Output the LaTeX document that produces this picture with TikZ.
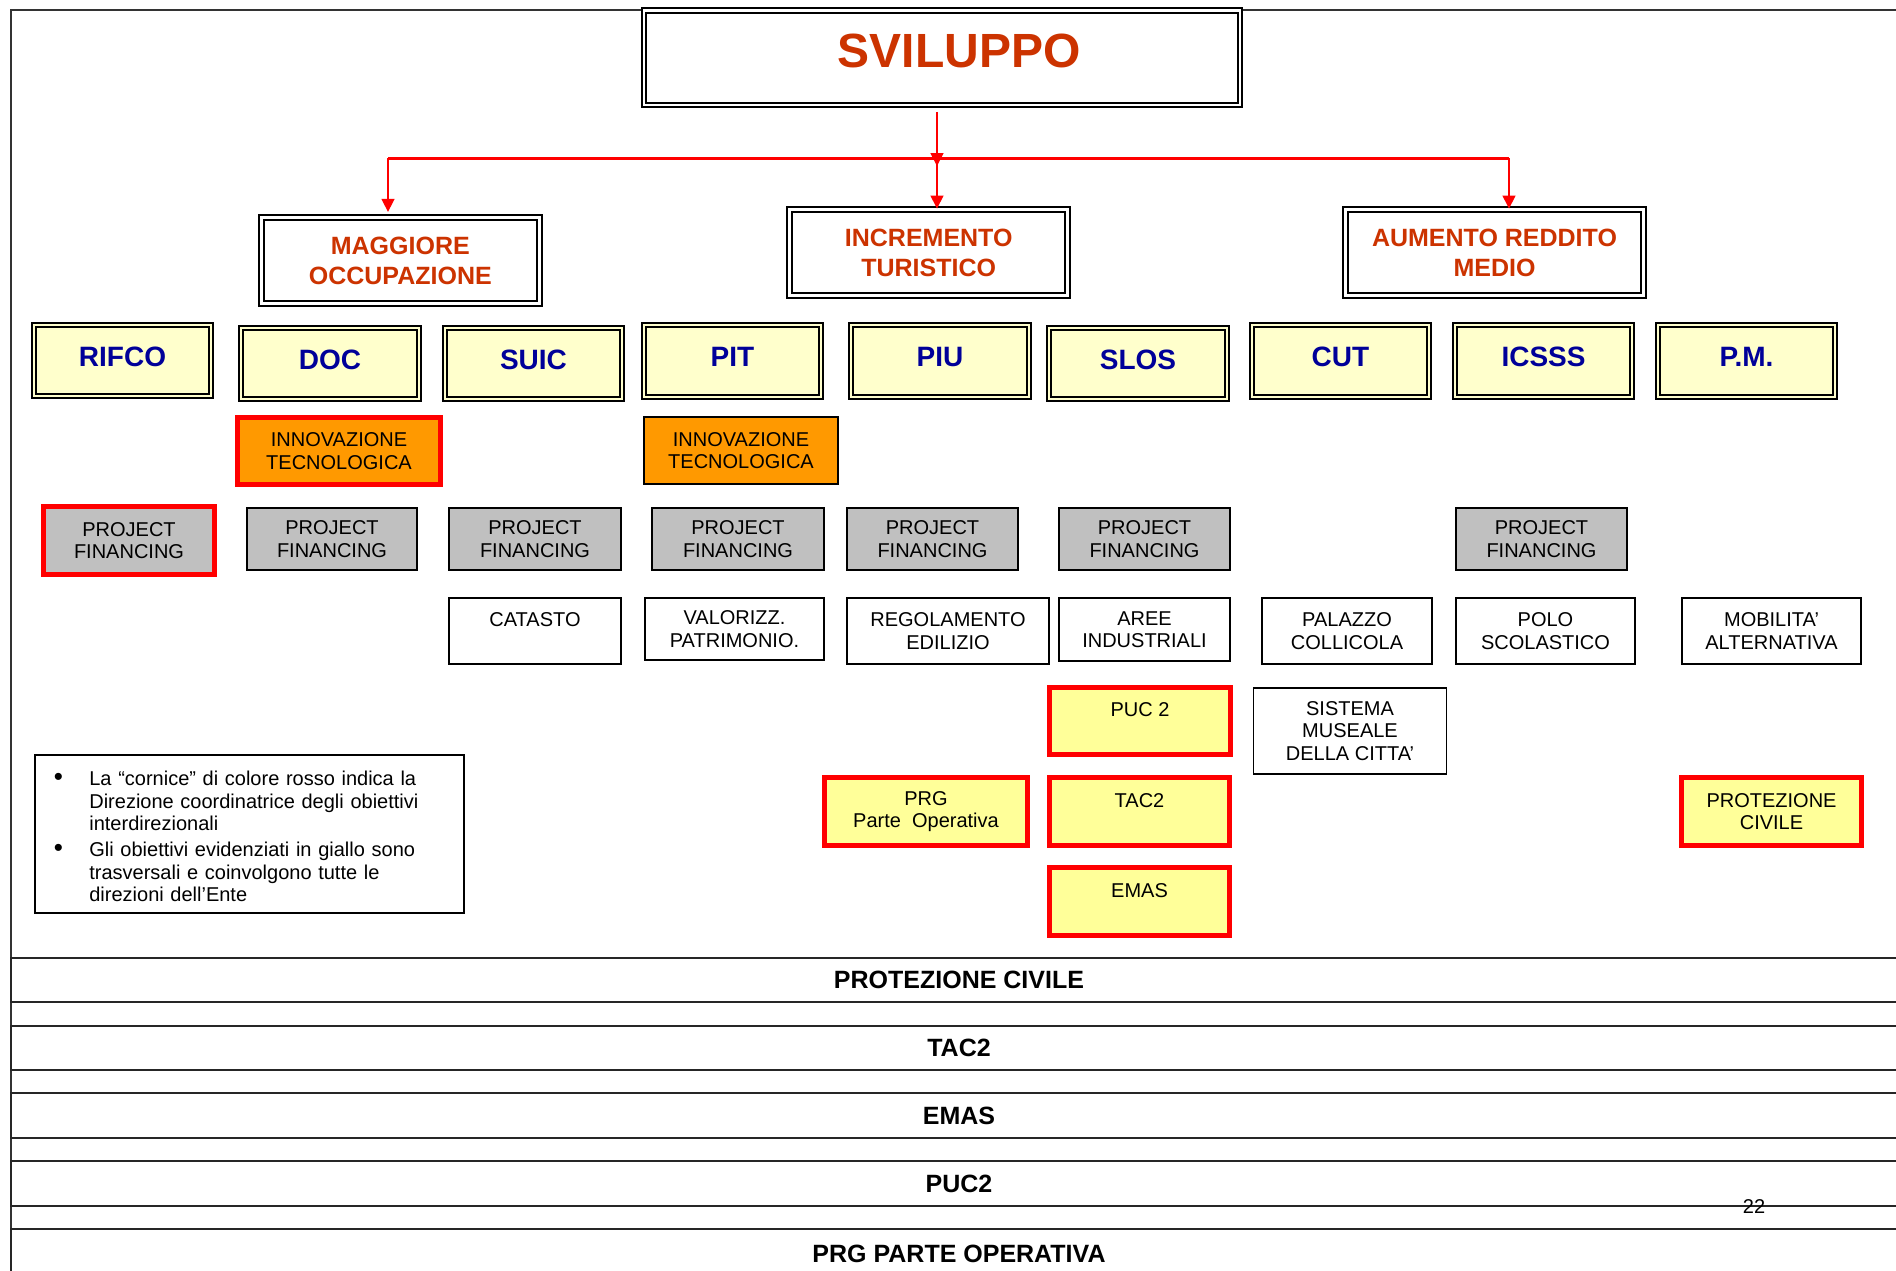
\documentclass[tikz,border=0pt]{standalone}
\usepackage{fontspec}
\setmainfont{Liberation Sans}
\usetikzlibrary{arrows.meta}
\definecolor{titlered}{HTML}{CC3300}
\definecolor{deptblue}{HTML}{000099}
\definecolor{deptyellow}{HTML}{FFFFCC}
\definecolor{orangefill}{HTML}{FF9900}
\definecolor{grayfill}{HTML}{C0C0C0}
\definecolor{yellowfill}{HTML}{FFFF99}
\definecolor{linkred}{HTML}{FF0000}
\newcommand{\liftup}[2]{\raisebox{#1}[\height][\depth]{#2}}
\begin{document}
\begin{tikzpicture}[x=1pt,y=-1pt,
  frameline/.style={draw=black!80, line width=2pt},
  titlebox/.style={draw=black, line width=2pt, double=white, double distance=2.5pt, fill=white,
    text=titlered, font=\fontsize{48}{56}\selectfont\bfseries, inner sep=0pt},
  objbox/.style={draw=black, line width=2pt, double=white, double distance=3pt, fill=white,
    text=titlered, font=\fontsize{25}{30}\selectfont\bfseries, align=center, inner sep=0pt},
  deptbox/.style={draw=black, line width=2pt, double=deptyellow, double distance=2pt, fill=deptyellow,
    text=deptblue, font=\fontsize{28}{32}\selectfont\bfseries, inner sep=0pt,
    minimum width=177.5pt, minimum height=71.5pt},
  plainbox/.style={draw=black, line width=1.5pt, fill=white, align=center, inner sep=0pt,
    font=\fontsize{20}{22.5}\selectfont},
  redframe/.style={draw=linkred, line width=5pt},
  pfbox/.style={plainbox, fill=grayfill, line width=2pt, minimum height=62pt},
  ybox/.style={plainbox, fill=yellowfill, redframe, minimum width=181pt, minimum height=68pt},
  band/.style={draw=black!85, line width=2pt, minimum width=1896pt, minimum height=44pt, inner sep=0pt,
    font=\fontsize{25}{29}\selectfont\bfseries},
  redarrow/.style={draw=linkred, line width=1.5pt, -{Triangle[length=13pt,width=13pt]}},
  redbar/.style={draw=linkred, line width=3pt}]
\useasboundingbox (0,0) rectangle (1896,1270);
\clip (0,0) rectangle (1896,1270);
\fill[white] (0,0) rectangle (1896,1270);

% outer frame
\draw[frameline] (11,1290) -- (11,9.5) -- (1920,9.5);

% bottom bands
\node[band] (bPC) at (959,980) {PROTEZIONE CIVILE};
\node[band] (bTAC) at (959,1048) {TAC2};
\node[band, minimum height=45pt] (bEMAS) at (959,1115.5) {EMAS};
\node[band, minimum height=45pt] (bPUC) at (959,1183.5) {PUC2};
\node[band, minimum height=50pt] (bPRG) at (959,1254) {PRG PARTE OPERATIVA};
\node[font=\fontsize{20}{24}\selectfont, inner sep=0pt] (pnum) at (1754,1206) {22};

% title
\node[titlebox, minimum width=595.6pt, minimum height=94.5pt] (svil) at (942,57.5)
  {\hspace*{34pt}\liftup{7pt}{SVILUPPO}};

% objectives
\node[objbox, minimum width=278.5pt, minimum height=85.7pt] (magg) at (400.3,260.7) {MAGGIORE\\OCCUPAZIONE};
\node[objbox, minimum width=278.5pt, minimum height=86.3pt] (incr) at (928.7,252.7) {INCREMENTO\\TURISTICO};
\node[objbox, minimum width=298pt, minimum height=86.3pt] (aum) at (1494.5,252.7) {AUMENTO REDDITO\\MEDIO};

% connectors
\coordinate (jl) at (388,158);
\coordinate (jm) at (937,158);
\coordinate (jr) at (1509,158);
\draw[redbar] (jl) -- (jr);
\draw[redarrow, shorten <=6pt, shorten >=-8pt] (svil.south -| jm) -- (jm);
\draw[redarrow, shorten >=5pt] (jl) -- (jl |- magg.north);
\draw[redarrow] (jm) -- (jm |- incr.north);
\draw[redarrow] (jr) -- (jr |- aum.north);

% departments
\node[deptbox] (rifco) at (122.5,360.5) {\liftup{4pt}{RIFCO}};
\node[deptbox] (doc) at (330,363.5) {\liftup{4pt}{DOC}};
\node[deptbox] (suic) at (533.5,363.5) {\liftup{4pt}{SUIC}};
\node[deptbox] (pit) at (732.5,361) {\liftup{4pt}{PIT}};
\node[deptbox] (piu) at (940,361) {\liftup{4pt}{PIU}};
\node[deptbox] (slos) at (1138,363.5) {\liftup{4pt}{SLOS}};
\node[deptbox] (cut) at (1340.5,361) {\liftup{4pt}{CUT}};
\node[deptbox] (icsss) at (1543.5,361) {\liftup{4pt}{ICSSS}};
\node[deptbox] (pm) at (1746.5,361) {\liftup{4pt}{P.M.}};

% innovazione
\node[plainbox, fill=orangefill, redframe, minimum width=203pt, minimum height=67pt] (inn1) at (339,451) {INNOVAZIONE\\TECNOLOGICA};
\node[plainbox, fill=orangefill, line width=2pt, minimum width=194pt, minimum height=67pt] (inn2) at (741,450.5) {INNOVAZIONE\\TECNOLOGICA};

% project financing
\node[pfbox, redframe, minimum width=171pt, minimum height=68pt] (pf1) at (129,540.5) {PROJECT\\FINANCING};
\node[pfbox, minimum width=170pt] (pf2) at (332,539) {PROJECT\\FINANCING};
\node[pfbox, minimum width=172pt] (pf3) at (535,539) {PROJECT\\FINANCING};
\node[pfbox, minimum width=172pt, line width=2.5pt] (pf4) at (738,539) {PROJECT\\FINANCING};
\node[pfbox, minimum width=171pt] (pf5) at (932.5,539) {PROJECT\\FINANCING};
\node[pfbox, minimum width=171pt] (pf6) at (1144.5,539) {PROJECT\\FINANCING};
\node[pfbox, minimum width=171pt] (pf7) at (1541.5,539) {PROJECT\\FINANCING};

% white boxes
\node[plainbox, minimum width=172pt, minimum height=66pt] (catasto) at (535,631) {CATASTO\\~};
\node[plainbox, minimum width=179pt, minimum height=62pt] (valor) at (734.5,629) {VALORIZZ.\\PATRIMONIO.};
\node[plainbox, minimum width=202pt, minimum height=66pt] (regol) at (948,631) {REGOLAMENTO\\EDILIZIO};
\node[plainbox, line width=2pt, minimum width=171pt, minimum height=63pt] (aree) at (1144.5,629.5) {AREE\\INDUSTRIALI};
\node[plainbox, minimum width=170pt, minimum height=66pt] (palazzo) at (1347,631) {PALAZZO\\COLLICOLA};
\node[plainbox, minimum width=179pt, minimum height=66pt] (polo) at (1545.5,631) {POLO\\SCOLASTICO};
\node[plainbox, minimum width=179pt, minimum height=66pt] (mobil) at (1771.5,631) {MOBILITA’\\ALTERNATIVA};

% lower boxes
\node[ybox, minimum height=67pt] (puc) at (1140,721) {PUC 2\\~};
\node[plainbox, minimum width=193pt, minimum height=86pt] (museo) at (1350,731) {SISTEMA\\MUSEALE\\DELLA CITTA’};
\node[ybox, minimum width=203pt] (prg) at (926,811.5) {PRG\\Parte\ \ Operativa};
\node[ybox, minimum width=180pt] (tac) at (1139.5,811.5) {TAC2\\~};
\node[ybox, minimum width=180pt] (emas) at (1139.5,901.5) {EMAS\\~};
\node[ybox, minimum width=180pt] (prot) at (1771.5,811.5) {PROTEZIONE\\CIVILE};

% legend
\node[draw=black, line width=1.5pt, anchor=west, inner xsep=19pt, text width=391pt, minimum height=158pt,
  align=left, font=\fontsize{20}{22.5}\selectfont] (legend) at (34,834)
  {\liftup{-5pt}{\begin{tabular}{@{}l@{\hspace{26.5pt}}l@{}}
   \scalebox{1.3}{•}& La “cornice” di colore rosso indica la\\
    & Direzione coordinatrice degli obiettivi\\
    & interdirezionali\\[3.5pt]
   \scalebox{1.3}{•}& Gli obiettivi evidenziati in giallo sono\\
    & trasversali e coinvolgono tutte le\\
    & direzioni dell’Ente
   \end{tabular}}};
\end{tikzpicture}
\end{document}
